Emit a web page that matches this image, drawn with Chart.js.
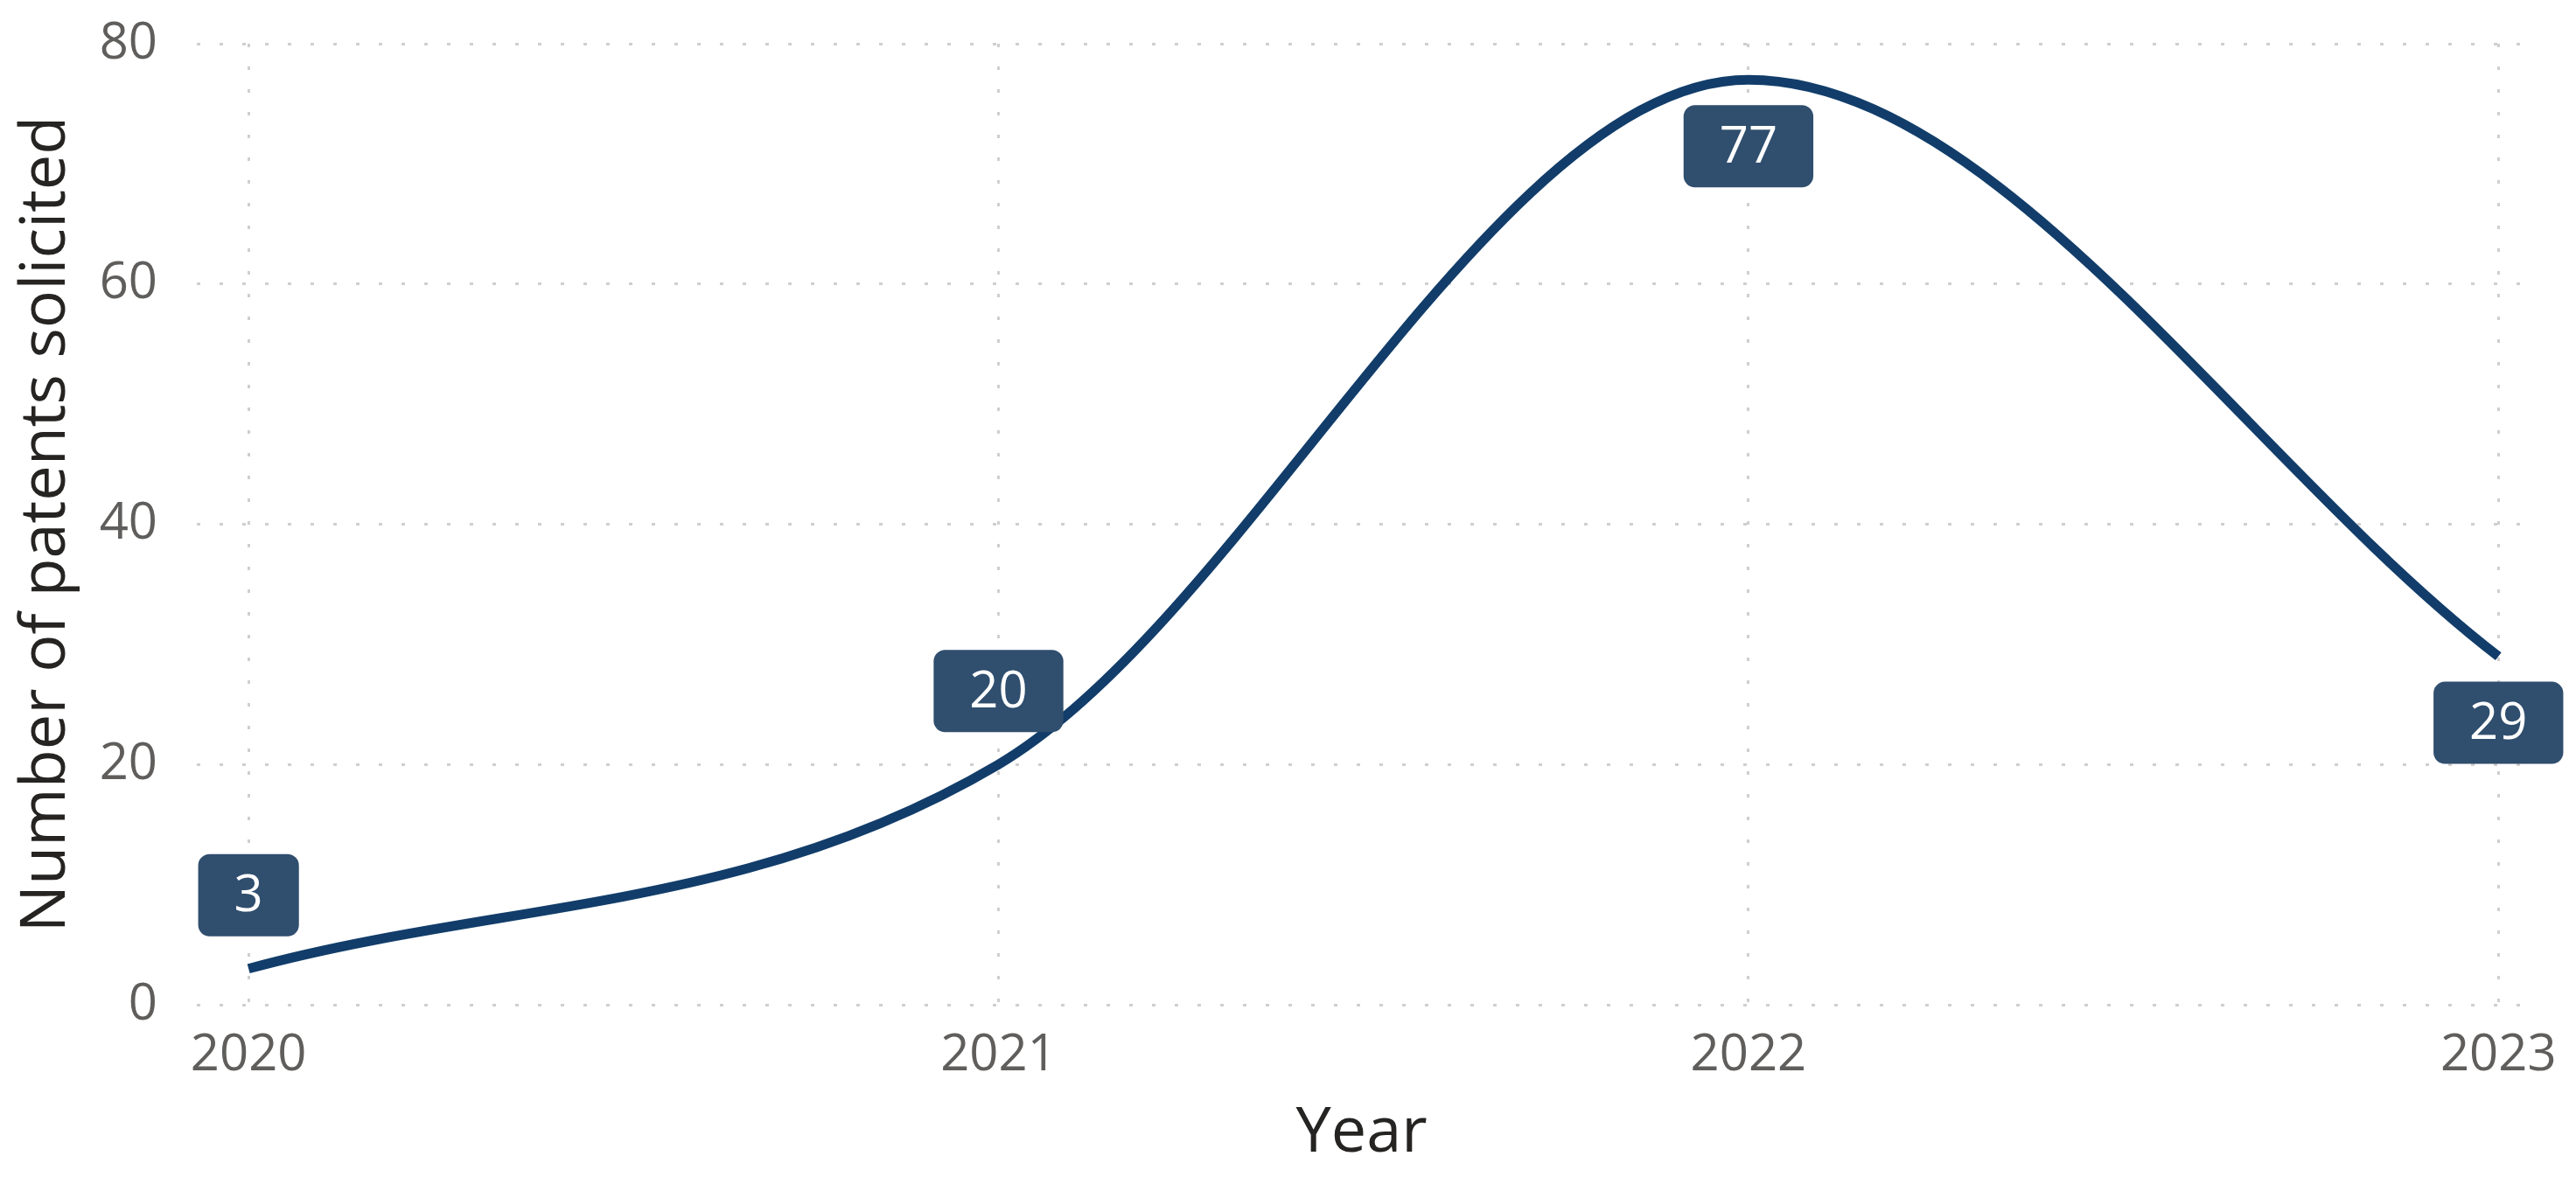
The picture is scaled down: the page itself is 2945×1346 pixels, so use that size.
<!DOCTYPE html>
<html>
<head>
<meta charset="utf-8">
<script src="https://cdn.jsdelivr.net/npm/chart.js@4"></script>
<style>
  html, body { margin: 0; padding: 0; background: #fff; }
  #wrap { width: 2945px; height: 1346px; position: relative; }
</style>
</head>
<body>
<div id="wrap"><canvas id="chart"></canvas></div>
<script>
// values
const years = [2020, 2021, 2022, 2023];
const patents = [3, 20, 77, 29];
const yTicks = [0, 20, 40, 60, 80];

const FONT = "'Open Sans', sans-serif";
const gridColor = '#cfcfcf';

// boxed value labels, drawn at the point positions the library computed
const boxLabels = {
  id: 'boxLabels',
  afterDatasetsDraw(chart, args, opts) {
    const ctx = chart.ctx;
    const meta = chart.getDatasetMeta(0);
    ctx.save();
    ctx.font = opts.fontSize + 'px ' + FONT;
    ctx.textAlign = 'center';
    ctx.textBaseline = 'middle';
    meta.data.forEach((pt, i) => {
      const txt = String(chart.data.datasets[0].data[i].y);
      const w = ctx.measureText(txt).width + opts.padX * 2;
      const h = opts.height;
      const above = opts.place[i] === 'above';
      const cx = pt.x;
      const cy = above ? pt.y - opts.offAbove : pt.y + opts.offBelow;
      ctx.fillStyle = opts.bg;
      ctx.beginPath();
      ctx.roundRect(cx - w / 2, cy - h / 2, w, h, opts.radius);
      ctx.fill();
      ctx.fillStyle = '#ffffff';
      ctx.fillText(txt, cx, cy + 2);
    });
    ctx.restore();
  }
};

const ctx = document.querySelector('#chart').getContext('2d');
const myChart = new Chart(ctx, {
  type: 'line',
  data: {
    datasets: [{
      label: 'Number of patents solicited',
      data: years.map((y, i) => ({x: y, y: patents[i]})),
      borderColor: '#123d6a',
      borderWidth: 11,
      pointRadius: 0,
      fill: false,
      cubicInterpolationMode: 'monotone',
      clip: false
    }]
  },
  options: {
    responsive: true,
    maintainAspectRatio: false,
    animation: false,
    layout: { padding: { left: 10, right: 57, top: 50, bottom: 0 } },
    plugins: {
      legend: { display: false },
      tooltip: { enabled: false },
      boxLabels: {
        place: ['above', 'above', 'below', 'below'],
        bg: '#304e6e',
        fontSize: 58,
        padX: 41,
        height: 94,
        radius: 13,
        offAbove: 84,
        offBelow: 76
      }
    },
    scales: {
      x: {
        type: 'linear',
        min: 2019.931,
        max: 2023.037,
        border: { display: false, dash: [4, 22] },
        grid: {
          color: gridColor,
          lineWidth: 3,
          drawTicks: false
        },
        afterFit: axis => {
          axis.height = 197;
          axis.paddingLeft = 0;
          axis.paddingRight = 0;
        },
        ticks: {
          stepSize: 1,
          includeBounds: false,
          padding: 24,
          color: '#605e5c',
          font: { family: FONT, size: 58 },
          callback: v => String(v)
        },
        title: {
          display: true,
          text: 'Year',
          color: '#252423',
          font: { family: FONT, size: 72 },
          padding: { top: 2, bottom: 6 }
        }
      },
      y: {
        min: yTicks[0],
        max: yTicks[yTicks.length - 1],
        border: { display: false, dash: [4, 22] },
        grid: {
          color: gridColor,
          lineWidth: 3,
          drawTicks: false
        },
        afterBuildTicks: axis => { axis.ticks = yTicks.map(v => ({value: v})); },
        afterFit: axis => {
          axis.width = 215;
          axis.paddingTop = 0;
          axis.paddingBottom = 0;
        },
        ticks: {
          padding: 45,
          color: '#605e5c',
          font: { family: FONT, size: 58 }
        },
        title: {
          display: true,
          text: 'Number of patents solicited',
          color: '#252423',
          font: { family: FONT, size: 72 },
          padding: { top: 0, bottom: 2 }
        }
      }
    }
  },
  plugins: [boxLabels]
});
</script>
</body>
</html>
